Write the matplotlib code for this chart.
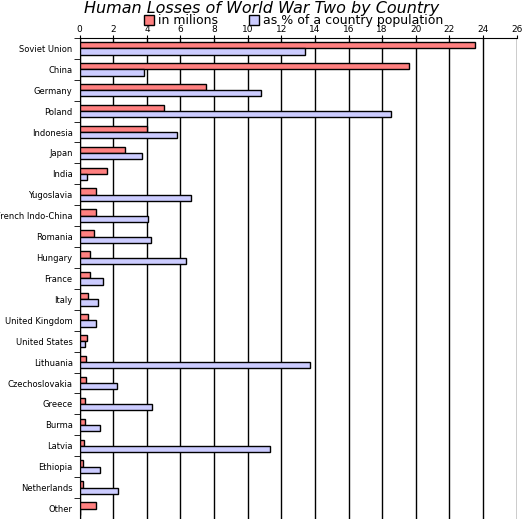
import numpy as np
import matplotlib.pyplot as plt
from matplotlib.patches import Patch

countries = ["Soviet Union", "China", "Germany", "Poland", "Indonesia", "Japan", "India",
             "Yugoslavia", "French Indo-China", "Romania", "Hungary", "France", "Italy",
             "United Kingdom", "United States", "Lithuania", "Czechoslovakia", "Greece",
             "Burma", "Latvia", "Ethiopia", "Netherlands", "Other"]
millions = [23.55, 19.6, 7.5, 5.0, 4.0, 2.7, 1.6, 1.0, 1.0, 0.83, 0.6, 0.6, 0.48, 0.48,
            0.41, 0.37, 0.36, 0.31, 0.3, 0.25, 0.2, 0.2, 1.0]
percent = [13.4, 3.8, 10.8, 18.5, 5.8, 3.7, 0.43, 6.65, 4.05, 4.25, 6.35, 1.37, 1.07, 0.96,
           0.31, 13.7, 2.24, 4.3, 1.2, 11.35, 1.2, 2.3, 0]

fig = plt.figure(figsize=(5.24, 5.19), dpi=100)
ax = fig.add_axes([0.152, 0.0, 0.834, 0.927])

y = np.arange(len(countries))
h = 0.3
ax.barh(y - h / 2, millions, height=h, color="#ff8080", edgecolor="black", linewidth=1, zorder=3)
ax.barh(y + h / 2, percent, height=h, color="#ccccff", edgecolor="black", linewidth=1, zorder=3)

ax.set_ylim(len(countries) - 0.5, -0.5)
ax.set_xlim(0, 26)
ax.set_xticks(range(0, 27, 2))
ax.xaxis.tick_top()
ax.tick_params(axis="x", labelsize=6.5, length=2, pad=1)
ax.set_yticks(y)
ax.set_yticklabels(countries, fontsize=6)
ax.tick_params(axis="y", length=0, pad=5)
ax.set_yticks(np.arange(-0.5, len(countries)), minor=True)
ax.tick_params(axis="y", which="minor", length=4)
ax.grid(axis="x", color="black", linewidth=1, zorder=0)
for s in ["right", "bottom"]:
    ax.spines[s].set_visible(False)

fig.text(0.5, 0.983, "Human Losses of World War Two by Country", ha="center", va="center",
         fontsize=11.5, style="italic")
fig.legend(handles=[Patch(facecolor="#ff8080", edgecolor="black"),
                    Patch(facecolor="#ccccff", edgecolor="black")],
           labels=["in milions", "as % of a country population"], ncol=2,
           loc="center", bbox_to_anchor=(0.56, 0.96), frameon=False, fontsize=9,
           handlelength=0.8, handleheight=0.8, handletextpad=0.3, columnspacing=2.5,
           borderpad=0)
fig.savefig("out.png", dpi=100)
